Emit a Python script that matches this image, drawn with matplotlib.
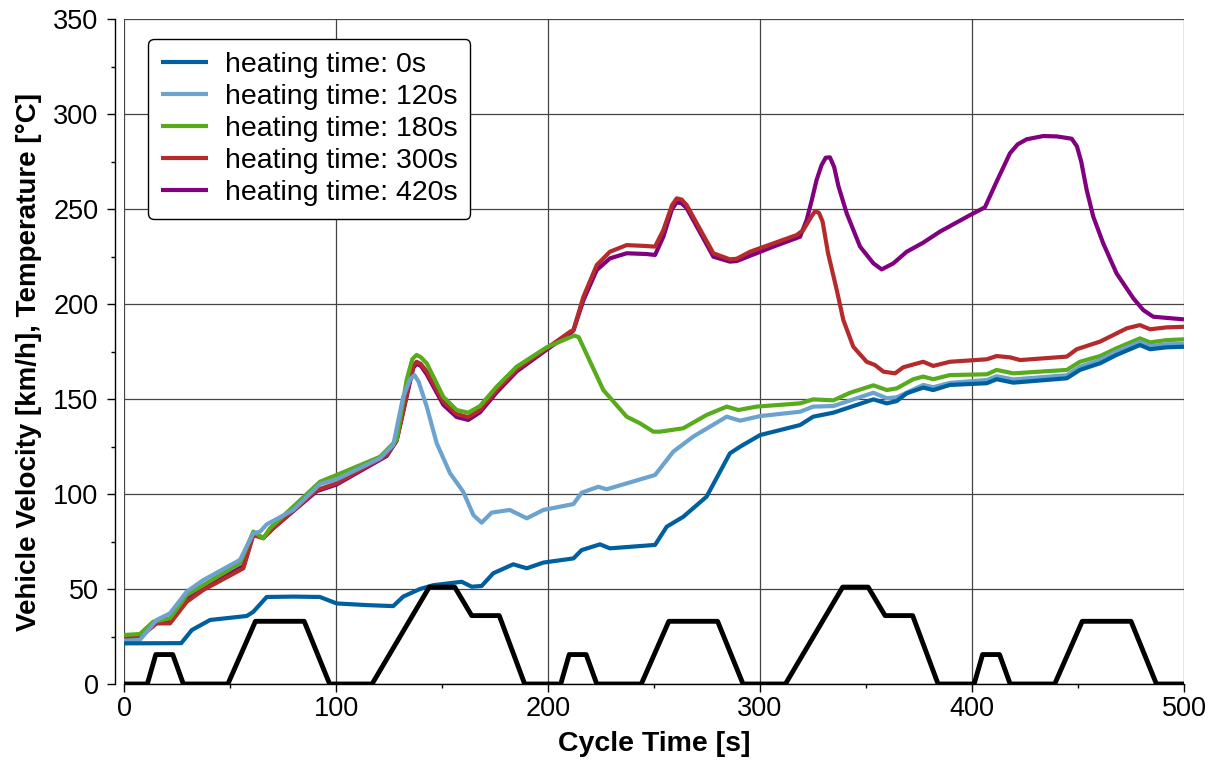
import matplotlib
matplotlib.use("Agg")
import matplotlib.pyplot as plt
from matplotlib.ticker import MultipleLocator

plt.rcParams['font.family'] = ['Liberation Sans', 'DejaVu Sans']

# ---------------- data ----------------
labels = ["heating time: 0s", "heating time: 120s", "heating time: 180s",
          "heating time: 300s", "heating time: 420s"]
colors = ["#00609f", "#6ba3ce", "#58ab1b", "#b52a2a", "#80007f"]

t0 = [0, 27, 32, 40.6, 57.9, 61, 67.3, 80, 92.4, 100.3, 115, 127, 131.7, 139.6, 145.9,
      159.3, 164, 168.7, 174.2, 183.6, 190, 197.8, 212, 215.9, 224.5, 229.2, 243.4,
      250.5, 256, 263.8, 274.8, 285.8, 290.6, 300, 318.9, 325.1, 334.6, 353.5, 359.8,
      364.5, 369.2, 377, 381.7, 389.6, 407, 411.6, 419.5, 444.7, 450.9, 460.4, 468.2,
      479.2, 484, 491.8, 500]
y0 = [21.4, 21.5, 28.4, 33.7, 35.8, 38, 45.8, 46, 45.8, 42.4, 41.5, 41, 46, 50, 52,
      53.8, 51.2, 51.6, 58.3, 63, 60.9, 63.9, 66.1, 70.5, 73.5, 71.4, 72.6,
      73.2, 82.8, 88, 98.6, 121.4, 124.9, 131, 136.3, 140.7, 142.8, 149.8, 147.7,
      148.9, 153, 156, 154.7, 157.4, 158.3, 160.4, 158.6, 160.9, 165.3, 168.8, 173.2,
      178.4, 176.2, 177.2, 177.5]

t1 = [0, 7.5, 15.4, 21.7, 29.6, 37.4, 54.7, 61, 64.2, 67.3, 79.9, 92.5, 100.3, 120.8,
      127, 131.7, 135, 137, 139, 142.8, 147.5, 153.8, 160, 164.8, 168.7, 173.4, 182, 190,
      197.8, 212, 215.9, 223.7, 227.7, 250.5, 259.1, 268.5, 284.3, 290.6, 300, 318.9,
      325.1, 334.6, 353.5, 359.8, 364.5, 377, 381.7, 389.6, 407, 411.6, 419.5, 444.7,
      450.9, 460.4, 468.2, 479.2, 484, 491.8, 500]
y1 = [22.8, 23.2, 33.7, 37.2, 48.6, 54.7, 65.3, 79.3, 80.2, 84, 91.6, 105.3, 107.7, 118.8,
      125.8, 151.2, 160.5, 162.6, 159, 146, 126.7, 110.9, 101.2, 88.9, 84.9, 90.2, 91.6, 87.2,
      91.6, 94.7, 100.7, 103.8, 102.5, 110, 122.3, 130.2, 140.7, 138.6, 141, 143.3,
      146, 146.3, 153.3, 150.4, 150.9, 157.4, 156.2, 158.5, 160, 162, 160.3, 162.5,
      167, 170.5, 175, 180, 177.8, 178.8, 179]

t2 = [0, 7.5, 13.8, 21.7, 29.6, 37.4, 54.7, 61, 65.7, 68.9, 92.5, 100.3, 120.8, 128.6,
      133.3, 136, 138, 140, 142.8, 150.6, 156.9, 162.4, 167.9, 175.8, 185.2, 199.4, 210,
      212.5, 214.5, 226.1, 237.1, 243.4, 249.7, 252.8, 263.8, 274.8, 284.3, 289.8, 298.4,
      318.9, 325.1, 334.6, 342.5, 353.5, 359.8, 364.5, 372.3, 377, 381.7, 389.6, 407,
      411.6, 419.5, 444.7, 450.9, 460.4, 468.2, 479.2, 484, 491.8, 500]
y2 = [25.8, 26.3, 32.8, 34.6, 46.8, 52.1, 63.5, 80.2, 76.7, 82, 106.5, 110, 119.6, 128.4,
      160, 171, 173.2, 172, 168.8, 151.2, 144.2, 142.8, 146.3, 156.5, 167, 177.2, 182.3,
      183.4, 182.5, 154.7, 140.7, 137.2, 132.8, 132.8, 134.6, 141.6, 146, 144.2, 146,
      147.7, 149.8, 149.3, 153.3, 157.2, 154.7, 155.6, 160.4, 161.8, 160.4, 162.6, 163,
      165.3, 163.5, 165.3, 169.6, 172.6, 176.7, 181.9, 179.8, 181, 181.4]

t3 = [0, 7.5, 15.4, 21.7, 29.6, 37.4, 56.3, 61, 65.7, 70.4, 90.9, 100.3, 123.9, 128.6,
      134.9, 136.5, 138, 140, 142.8, 150.6, 156.9, 162.4, 167.9, 175.8, 185.2, 199.4, 210.4,
      212, 216.7, 223, 229.2, 237.1, 246.5, 250.5, 254.4, 258.5, 260.7, 263, 265.4, 278,
      285.8, 289, 295.3, 306.3, 317.3, 320.4, 324.5, 326, 327.8, 329.5, 332.1, 336.2, 339.3,
      344, 350.3, 354.2, 358.2, 363.7, 367.6, 377, 381.7, 389.6, 407, 411.6, 418, 422.7,
      444.7, 449.4, 460.4, 473, 479.2, 484, 491.8, 500]
y3 = [24, 24.7, 31.9, 31.9, 43.3, 49.5, 60.9, 78.4, 76.7, 82, 102.1, 105.6, 120.5, 128.4,
      160, 167.5, 169.6, 168.5, 164.4, 148.6, 142.1, 140.4, 144.2, 154.7, 165.6, 176.7, 185.4,
      186.3, 203.8, 220.5, 227.5, 231, 230.5, 230.2, 238.9, 252, 255.6, 255, 252.1, 226.7,
      223.5, 223.8, 227.5, 231.9, 236.3, 238.9, 246.5, 248.8, 248, 243.5, 226.7, 207.4, 191.6,
      177.5, 169.6, 167.9, 164.4, 163.5, 166.7, 169.6, 167.4, 169.6, 170.9, 172.6, 171.9, 170.5,
      172.3, 176.2, 180.2, 187.2, 188.9, 186.7, 187.7, 188]

t4 = [0, 7.5, 15.4, 21.7, 29.6, 37.4, 56.3, 61, 65.7, 70.4, 90.9, 100.3, 123.9, 128.6,
      134.9, 136.5, 138, 140, 142.8, 150.6, 156.9, 162.4, 167.9, 175.8, 185.2, 199.4, 210.4,
      212, 216.7, 223, 229.2, 237.1, 246.5, 250.5, 254.4, 258.5, 260.7, 263, 265.4, 278,
      285.8, 289, 306.3, 318.9, 322, 324.5, 326.7, 329, 331, 333, 335, 337, 340.9, 347.2,
      353.5, 357.4, 362.9, 369.2, 377, 384.9, 399.1, 406.1, 411.6, 417.9, 421.5, 425.8,
      433.6, 440, 447, 449.5, 451.5, 454.1, 457.2, 461.9, 468.2, 476.1, 480.8, 485.5, 500]
y4 = [24.5, 25, 32.5, 32.8, 44.5, 50.5, 62, 79, 77, 82, 101.5, 105, 120, 128,
      159, 166.5, 168.5, 167.5, 163, 147, 140.5, 139, 143, 153.5, 164.5, 176, 184.6,
      186, 202, 217.9, 224, 226.7, 226.3, 225.8, 235.4, 250, 253.5, 253, 250.5, 224.9,
      222.3, 222.6, 230.2, 235.4, 244.2, 255, 265.3, 273, 277, 277.2, 272, 262, 247.7, 230.2,
      221.4, 218.2, 221.4, 227.5, 232.3, 238.1, 246.8, 250.9, 264.4, 279.3, 284, 286.7,
      288.4, 288.2, 287, 283, 275, 260, 246, 231.9, 216.1, 203, 196.8, 193.3, 191.9]

# vehicle velocity (km/h)
tv = [0, 11, 15, 23, 28, 49, 62, 85, 97, 117, 144, 156, 164, 177, 189,
      206, 210, 218, 223, 244, 257, 280, 292, 312, 339, 351, 359, 372, 384,
      401, 405, 413, 418, 439, 452, 475, 487, 500]
vv = [0, 0, 15.5, 15.5, 0, 0, 33, 33, 0, 0, 51, 51, 36, 36, 0,
      0, 15.5, 15.5, 0, 0, 33, 33, 0, 0, 51, 51, 36, 36, 0,
      0, 15.5, 15.5, 0, 0, 33, 33, 0, 0]

series_t = [t0, t1, t2, t3, t4]
series_y = [y0, y1, y2, y3, y4]

# ---------------- plot ----------------
fig = plt.figure(figsize=(12.16, 7.63), dpi=100)
ax = fig.add_axes([124/1216, 1 - 684/763, 1060/1216, 665/763])

for i, (t, y) in enumerate(zip(series_t, series_y)):
    ax.plot(t, y, color=colors[i], lw=3.0, label=labels[i], zorder=10 - i,
            solid_joinstyle='round', solid_capstyle='butt')
ax.plot(tv, vv, color='black', lw=3.5, zorder=12, solid_joinstyle='round')

ax.set_xlim(0, 500)
ax.set_ylim(0, 350)
ax.xaxis.set_major_locator(MultipleLocator(100))
ax.xaxis.set_minor_locator(MultipleLocator(50))
ax.yaxis.set_major_locator(MultipleLocator(50))
ax.yaxis.set_minor_locator(MultipleLocator(25))

ax.grid(True, which='major', color='#444444', lw=0.9)
ax.set_axisbelow(True)

for s in ['top', 'right']:
    ax.spines[s].set_visible(False)
ax.spines['left'].set_position(('outward', 6.5))
ax.spines['left'].set_linewidth(1.0)
ax.spines['bottom'].set_linewidth(1.0)

ax.tick_params(axis='both', which='major', direction='out', length=5.8, width=1.0,
               labelsize=19.5)
ax.tick_params(axis='x', which='major', pad=3)
ax.tick_params(axis='y', which='major', pad=6)
ax.tick_params(axis='both', which='minor', direction='out', length=3, width=1.0)

ax.set_xlabel("Cycle Time [s]", fontsize=20.5, fontweight='bold', labelpad=6)
ax.set_ylabel("Vehicle Velocity [km/h], Temperature [°C]", fontsize=20,
              fontweight='bold')
ax.yaxis.set_label_coords((42 - 124) / 1060, (684 - 362) / 665)

leg = ax.legend(loc='upper left', bbox_to_anchor=(24/1060, 1 - 20/665),
                borderaxespad=0, fontsize=20.5, frameon=True, fancybox=True,
                framealpha=1, edgecolor='black', borderpad=0.45,
                labelspacing=0.21, handlelength=1.65, handletextpad=0.6)
leg.get_frame().set_linewidth(1.0)
for line in leg.get_lines():
    line.set_linewidth(3.0)
leg.set_zorder(20)

fig.savefig("out.png", dpi=100)
